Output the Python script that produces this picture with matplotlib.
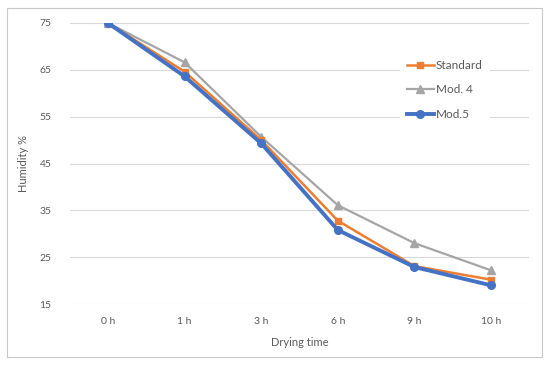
import matplotlib
matplotlib.use('Agg')
import matplotlib.pyplot as plt
from matplotlib.patches import Rectangle

categories = ['0 h', '1 h', '3 h', '6 h', '9 h', '10 h']
standard = [75, 64.6, 50.0, 32.8, 23.1, 20.2]
mod4 = [75, 66.6, 50.7, 36.1, 28.0, 22.2]
mod5 = [75, 63.6, 49.3, 30.8, 22.9, 19.0]
y_ticks = [15, 25, 35, 45, 55, 65, 75]

text_color = '#595959'
plt.rcParams['font.family'] = ['Lato', 'DejaVu Sans']

fig = plt.figure(figsize=(5.5, 3.65), dpi=100)
fig.patches.append(Rectangle((7 / 550, 8 / 365), 535 / 550, 349 / 365, transform=fig.transFigure,
                             fill=False, edgecolor='#c8c8c8', linewidth=0.8))

ax = fig.add_axes([0.1267, 0.167, 0.8357, 0.770])
x = range(len(categories))

ax.plot(x, standard, color='#ED7D31', linewidth=1.8, marker='s', markersize=5, label='Standard', zorder=3)
ax.plot(x, mod4, color='#A5A5A5', linewidth=1.6, marker='^', markersize=6, label='Mod. 4', zorder=2)
ax.plot(x, mod5, color='#4472C4', linewidth=2.8, marker='o', markersize=5.5, label='Mod.5', zorder=4)

ax.set_xlim(-0.5, len(categories) - 0.5)
ax.set_ylim(15, 75)
ax.set_yticks(y_ticks)
ax.set_xticks(list(x))
ax.set_xticklabels(categories)
ax.tick_params(length=0, labelsize=7.5, colors=text_color, pad=9)
ax.tick_params(axis='y', pad=13)
ax.yaxis.grid(True, color='#d9d9d9', linewidth=0.8)
ax.set_axisbelow(True)
for s in ax.spines.values():
    s.set_visible(False)

ax.set_xlabel('Drying time', fontsize=8, color=text_color, labelpad=8)
ax.set_ylabel('Humidity %', fontsize=8, color=text_color, labelpad=8)

leg = ax.legend(loc='upper left', bbox_to_anchor=(0.705, 0.915), frameon=True, fontsize=8.5,
                handlelength=2.3, labelspacing=1.15, borderpad=0.6, handletextpad=0.15)
leg.get_frame().set_edgecolor('none')
leg.get_frame().set_facecolor('white')
leg.get_frame().set_alpha(1)
for t in leg.get_texts():
    t.set_color(text_color)

fig.savefig('out.png', dpi=100, facecolor='white')
